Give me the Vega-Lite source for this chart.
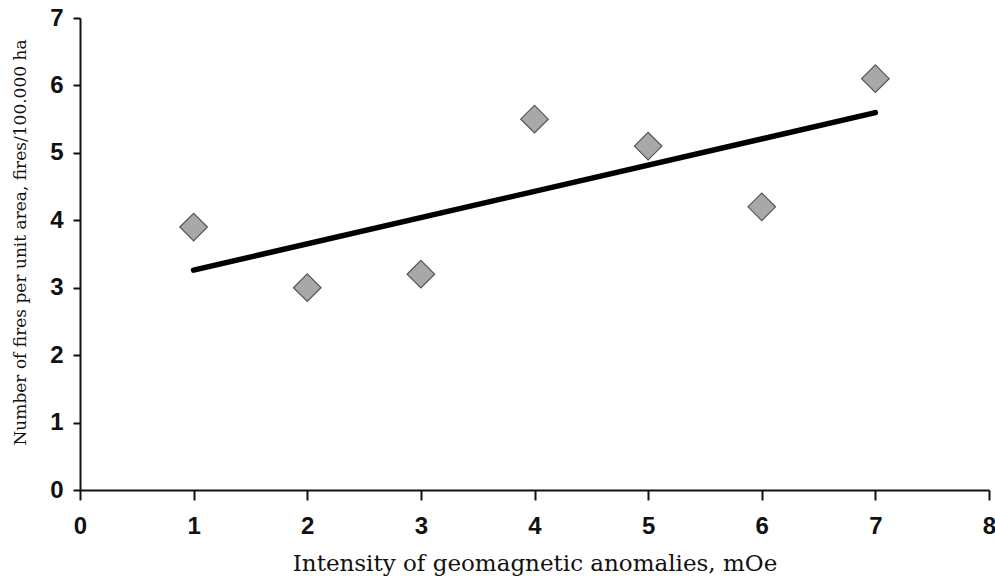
{
  "$schema": "https://vega.github.io/schema/vega-lite/v6.json",
  "width": 909,
  "height": 472,
  "autosize": "none",
  "padding": {"left": 80, "top": 18, "right": 6, "bottom": 87},
  "background": "white",
  "config": {
    "view": {"stroke": null},
    "axis": {
      "grid": false,
      "domainColor": "#111",
      "domainWidth": 2,
      "tickColor": "#111",
      "tickWidth": 2,
      "labelFont": "Liberation Sans",
      "labelFontWeight": "bold",
      "labelFontSize": 24,
      "labelColor": "#111",
      "titleFont": "DejaVu Serif",
      "titleFontWeight": "normal",
      "titleColor": "#111"
    }
  },
  "data": {
    "values": [
      {"intensity": 1, "fires": 3.9},
      {"intensity": 2, "fires": 3.0},
      {"intensity": 3, "fires": 3.2},
      {"intensity": 4, "fires": 5.5},
      {"intensity": 5, "fires": 5.1},
      {"intensity": 6, "fires": 4.2},
      {"intensity": 7, "fires": 6.1}
    ]
  },
  "layer": [
    {
      "transform": [
        {"regression": "fires", "on": "intensity", "extent": [1, 7]}
      ],
      "mark": {"type": "line", "color": "#000", "strokeWidth": 5.5, "strokeCap": "round"},
      "encoding": {
        "x": {
          "field": "intensity",
          "type": "quantitative",
          "scale": {"domain": [0, 8], "nice": false},
          "axis": {
            "title": "Intensity of geomagnetic anomalies, mOe",
            "titleFontSize": 23,
            "titlePadding": 14,
            "tickCount": 8,
            "tickSize": 10,
            "labelPadding": 14,
            "labelFlush": false
          }
        },
        "y": {
          "field": "fires",
          "type": "quantitative",
          "scale": {"domain": [0, 7], "nice": false},
          "axis": {
            "title": "Number of fires per unit area, fires/100.000 ha",
            "titleFontSize": 17,
            "titlePadding": 20,
            "titleY": 224,
            "tickCount": 7,
            "tickSize": 7,
            "labelPadding": 10,
            "labelFlush": false
          }
        }
      }
    },
    {
      "mark": {
        "type": "point",
        "shape": "diamond",
        "filled": true,
        "size": 760,
        "fill": "#a8a8a8",
        "stroke": "#555",
        "strokeWidth": 1.2,
        "opacity": 1
      },
      "encoding": {
        "x": {"field": "intensity", "type": "quantitative"},
        "y": {"field": "fires", "type": "quantitative"}
      }
    }
  ]
}
